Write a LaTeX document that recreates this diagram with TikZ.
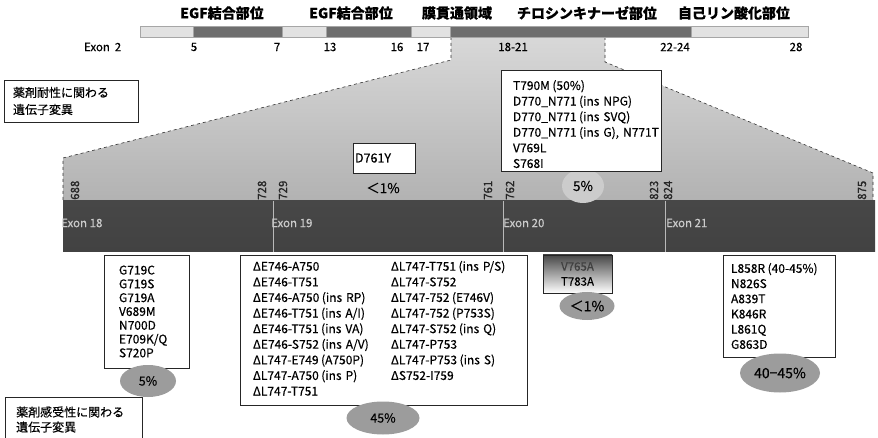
\documentclass[tikz,border=0pt]{standalone}
\usepackage{fontspec}
\setmainfont{Noto Sans CJK JP}[FakeBold=0.35]
\usetikzlibrary{shapes.geometric}
\newcommand\mylp{\kern2.5pt(}
\definecolor{seglight}{HTML}{E2E2E2}
\definecolor{segdark}{HTML}{6E6E6E}
\definecolor{zoomtop}{HTML}{D8D8D8}
\definecolor{zoombot}{HTML}{B2B2B2}
\definecolor{bartop}{HTML}{474747}
\definecolor{barmid}{HTML}{6E6E6E}
\definecolor{barbot}{HTML}{424242}
\definecolor{pctfill}{HTML}{9C9C9C}
\tikzset{
  lseg/.style={fill=seglight, draw=gray!70, line width=0.4pt},
  dseg/.style={fill=segdark, draw=gray!70, line width=0.4pt},
  domlabel/.style={font=\fontsize{14}{16}\selectfont\bfseries, inner sep=0},
  exlabel/.style={font=\fontsize{11.5}{12}\selectfont, inner sep=0},
  posnum/.style={rotate=90, anchor=west, font=\fontsize{11.5}{12}\selectfont, text=black!85, inner sep=0},
  exname/.style={anchor=west, font=\fontsize{11.5}{12}\selectfont, text=gray!40, inner sep=0},
  mutbox/.style={draw=black!85, line width=0.7pt, fill=white, align=left, inner xsep=0, inner ysep=0},
  pct/.style={ellipse, fill=pctfill, inner sep=0, font=\fontsize{12.5}{14}\selectfont},
  sep/.style={draw=gray!55, line width=0.5pt},
}
\begin{document}
\begin{tikzpicture}[x=1pt,y=-1pt]
\useasboundingbox (0,0) rectangle (878,438);
% zoom trapezoid
\shade[top color=zoomtop, bottom color=zoombot] (451,37) -- (605,37) -- (605,62) -- (873,173) -- (873,201) -- (63,201) -- (63,158) -- (451,60) -- cycle;
\draw[black!80, dashed, line width=0.6pt] (451,37) -- (451,60) -- (63,158) -- (63,201);
\draw[black!80, dashed, line width=0.6pt] (605,37) -- (605,62) -- (873,173) -- (873,201);
% top domain bar
\draw[lseg] (140,26) rectangle (193,37);
\draw[dseg] (193,26) rectangle (282,37);
\draw[lseg] (282,26) rectangle (326,37);
\draw[dseg] (326,26) rectangle (411,37);
\draw[lseg] (411,26) rectangle (450,37);
\draw[dseg] (450,26) rectangle (691,37);
\draw[lseg] (691,26) rectangle (808,37);
% domain labels
\node[domlabel] (d1) at (222,13) {EGF結合部位};
\node[domlabel] (d2) at (351,13) {EGF結合部位};
\node[domlabel] (d3) at (457,13) {膜貫通領域};
\node[domlabel] (d4) at (587,13) {チロシンキナーゼ部位};
\node[domlabel] (d5) at (734,13) {自己リン酸化部位};
% exon numbers
\node[exlabel] (ex) at (97,47) {Exon};
\node[exlabel] (e2) at (118,47) {2};
\node[exlabel] (e5) at (194,47) {5};
\node[exlabel] (e7) at (277,47) {7};
\node[exlabel] (e13) at (330,47) {13};
\node[exlabel] (e16) at (397,47) {16};
\node[exlabel] (e17) at (423,47) {17};
\node[exlabel] (e18) at (513,47) {18-21};
\node[exlabel] (e22) at (675,47) {22-24};
\node[exlabel] (e28) at (796,47) {28};
% exon bar
\shade[top color=bartop, middle color=barmid, bottom color=barbot] (63,201) rectangle (875,252);
\draw[sep] (273,201) -- (273,252);
\draw[sep] (503,201) -- (503,252);
\draw[sep] (665,201) -- (665,252);
\node[exname] (x18) at (61,223) {Exon 18};
\node[exname] (x19) at (271,223) {Exon 19};
\node[exname] (x20) at (503,223) {Exon 20};
\node[exname] (x21) at (666,223) {Exon 21};
% position numbers
\node[posnum] (n688) at (75,200) {688};
\node[posnum] (n728) at (262,200) {728};
\node[posnum] (n729) at (283,200) {729};
\node[posnum] (n761) at (488,200) {761};
\node[posnum] (n762) at (510,200) {762};
\node[posnum] (n823) at (654,200) {823};
\node[posnum] (n824) at (668,200) {824};
\node[posnum] (n875) at (862,200) {875};
% percentage markers in zoom area
\node[font=\fontsize{13.5}{14}\selectfont, inner sep=0] (lt1a) at (383,188) {＜1\%};
\node[ellipse, fill=gray!40, minimum width=42, minimum height=34, inner sep=0, font=\fontsize{13.5}{14}\selectfont] (p5a) at (583,186) {5\%};
% resistance boxes
\node[mutbox, font=\fontsize{12}{17}\selectfont, text width=116, minimum width=134, minimum height=42] (resist) at (71,101) {薬剤耐性に関わる\\遺伝子変異};
\node[mutbox, font=\fontsize{12.5}{13}\selectfont, text width=58, minimum width=62, minimum height=30] (d761) at (384,158) {D761Y};
\node[mutbox, font=\fontsize{12}{15.6}\selectfont, text width=136, minimum width=160, minimum height=101] (t790) at (581,120.5) {\rule{0pt}{17pt}T790M\mylp50\%)\\D770\_N771\mylp ins~NPG)\\D770\_N771\mylp ins~SVQ)\\D770\_N771\mylp ins~G),~N771T\\V769L\\S768I};
% sensitivity boxes
\node[mutbox, font=\fontsize{12}{13.8}\selectfont, text width=55, minimum width=85, minimum height=113] (b1) at (146.5,311.5) {G719C\\G719S\\G719A\\V689M\\N700D\\E709K/Q\\S720P};
\node[mutbox, font=\fontsize{12}{15.6}\selectfont, text width=261, minimum width=287, minimum height=150] (b2) at (383.5,330) {%
\begin{tabular}{@{}p{138pt}@{}l@{}}
ΔE746-A750 & ΔL747-T751\mylp ins~P/S)\\
ΔE746-T751 & ΔL747-S752\\
ΔE746-A750\mylp ins~RP) & ΔL747-752\mylp E746V)\\
ΔE746-T751\mylp ins~A/I) & ΔL747-752\mylp P753S)\\
ΔE746-T751\mylp ins~VA) & ΔL747-S752\mylp ins~Q)\\
ΔE746-S752\mylp ins~A/V) & ΔL747-P753\\
ΔL747-E749\mylp A750P) & ΔL747-P753\mylp ins~S)\\
ΔL747-A750\mylp ins~P) & ΔS752-I759\\
ΔL747-T751 & \\
\end{tabular}};
\node[draw=black!85, line width=0.7pt, top color=black!72, bottom color=white, align=center, inner sep=0, minimum width=69, minimum height=38, font=\fontsize{11.5}{15}\selectfont] (b3) at (577.5,274) {\textcolor{black!75}{V765A}\\T783A};
\node[mutbox, font=\fontsize{12}{15.2}\selectfont, text width=96, minimum width=112, minimum height=102] (b4) at (779,306) {L858R\mylp 40-45\%)\\N826S\\A839T\\K846R\\L861Q\\G863D};
% percentage ellipses
\node[pct, minimum width=56, minimum height=32] (p1) at (148,381) {5\%};
\node[pct, minimum width=73, minimum height=33] (p2) at (383,418) {45\%};
\node[pct, minimum width=55, minimum height=28, font=\fontsize{14}{14}\selectfont] (p3) at (587,306) {＜1\%};
\node[pct, minimum width=80, minimum height=39, font=\fontsize{14}{14}\selectfont] (p4) at (780,373) {40−45\%};
% sensitivity label
\node[anchor=west, align=left, inner sep=0, font=\fontsize{12}{15}\selectfont] (sens) at (16,419.5) {薬剤感受性に関わる\\遺伝子変異};
\draw[black!85, line width=0.7pt] (5,445) |- (142,397) -- (142,445);
\end{tikzpicture}
\end{document}
